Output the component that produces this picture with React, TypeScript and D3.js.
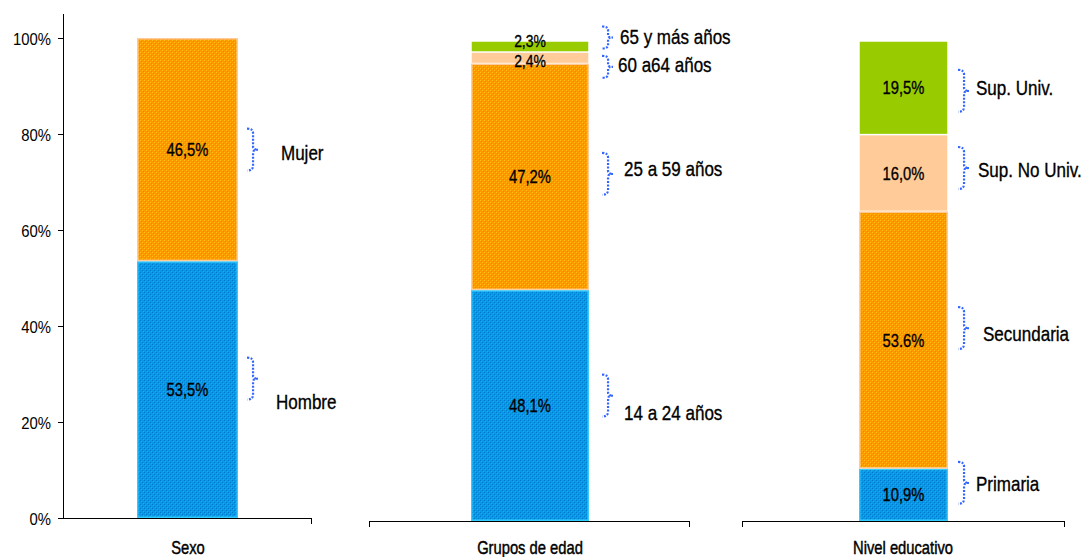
import React from "react";
import * as d3 from "d3";

// ---------- DATA ----------
const groupTitles = ["Sexo", "Grupos de edad", "Nivel educativo"];

const sexoCats = ["Hombre", "Mujer"];
const sexoVals = [53.5, 46.5];
const sexoLabels = ["53,5%", "46,5%"];

const edadCats = ["14 a 24 años", "25 a 59 años", "60 a64 años", "65 y más años"];
const edadVals = [48.1, 47.2, 2.4, 2.3];
const edadLabels = ["48,1%", "47,2%", "2,4%", "2,3%"];

const nivelCats = ["Primaria", "Secundaria", "Sup. No Univ.", "Sup. Univ."];
const nivelVals = [10.9, 53.6, 16.0, 19.5];
const nivelLabels = ["10,9%", "53.6%", "16,0%", "19,5%"];

const yTicks = [0, 20, 40, 60, 80, 100];

// ---------- LAYOUT / STYLE ----------
const W = 1087;
const H = 557;
const NARROW = "'Liberation Sans', Arial, sans-serif";

type Panel = {
  cats: string[];
  vals: number[];
  labels: string[];
  base: number;
  barX: [number, number];
  axisX: [number, number];
  leftTick: boolean;
  titleX: number;
  braceX: number;
  braceDy: number[];
  braceH: number[];
  labelX: number[];
  labelDy: number[];
  valueDy: number[];
  fills: string[];
};

const panels: Panel[] = [
  {
    cats: sexoCats, vals: sexoVals, labels: sexoLabels,
    base: 518, barX: [137, 238], axisX: [63, 312], leftTick: false, titleX: 188,
    braceX: 247, braceDy: [-11, 0], braceH: [42, 42],
    labelX: [276, 281], labelDy: [12, 3], valueDy: [0, 0],
    fills: ["blue", "orange"],
  },
  {
    cats: edadCats, vals: edadVals, labels: edadLabels,
    base: 521, barX: [471, 589], axisX: [369, 690], leftTick: true, titleX: 530,
    braceX: 602, braceDy: [-10, -3, 9, -9], braceH: [42, 42, 22, 22],
    labelX: [624, 624, 618, 620], labelDy: [7, -8, 7, -10], valueDy: [0, 0, 3, -6],
    fills: ["blue", "orange", "peach", "green"],
  },
  {
    cats: nivelCats, vals: nivelVals, labels: nivelLabels,
    base: 521, barX: [859, 948], axisX: [742, 1065], leftTick: true, titleX: 903,
    braceX: 958, braceDy: [-12, -12, -5, 3], braceH: [42, 42, 42, 42],
    labelX: [976, 983, 978, 976], labelDy: [-11, -6, -3, 0], valueDy: [0, 0, 0, 0],
    fills: ["blue", "orange", "peach", "green"],
  },
];

const PX_PER_100 = 480;

function bracePath(x: number, cy: number, h: number, w: number) {
  const t = cy - h / 2;
  const b = cy + h / 2;
  const r = Math.min(5, h / 6);
  const p = d3.path();
  p.moveTo(x, t);
  p.quadraticCurveTo(x + w * 0.55, t, x + w * 0.55, t + r);
  p.lineTo(x + w * 0.55, cy - r * 0.6);
  p.quadraticCurveTo(x + w * 0.55, cy, x + w, cy);
  p.quadraticCurveTo(x + w * 0.55, cy, x + w * 0.55, cy + r * 0.6);
  p.lineTo(x + w * 0.55, b - r);
  p.quadraticCurveTo(x + w * 0.55, b, x, b);
  return p.toString();
}

function NText({ x, y, size, children, anchor = "start", sx = 0.82, thick = 0.35 }: any) {
  return (
    <g transform={`translate(${x},${y}) scale(${sx},1)`}>
      <text
        x={0}
        y={0}
        fontFamily={NARROW}
        fontSize={size}
        textAnchor={anchor}
        dominantBaseline="central"
        fill="#000"
        stroke="#000"
        strokeWidth={thick}
      >
        {children}
      </text>
    </g>
  );
}

export default function App() {
  const yAxis = d3.scaleLinear().domain([0, 100]).range([518, 518 - PX_PER_100]);

  return (
    <svg width={W} height={H} style={{ position: "absolute", left: 0, top: 0, background: "#fff" }}>
      <defs>
        <pattern id="pat-blue" width="4" height="4" patternUnits="userSpaceOnUse">
          <rect width="4" height="4" fill="#0898E6" />
          <rect x="0" y="0" width="1" height="1" fill="#0076CC" />
          <rect x="2" y="2" width="1" height="1" fill="#0076CC" />
          <rect x="1" y="1" width="1" height="1" fill="#1EA8F5" />
          <rect x="3" y="3" width="1" height="1" fill="#1EA8F5" />
        </pattern>
        <pattern id="pat-orange" width="4" height="4" patternUnits="userSpaceOnUse">
          <rect width="4" height="4" fill="#FF9900" />
          <rect x="0" y="0" width="1" height="1" fill="#FFBF10" />
          <rect x="2" y="2" width="1" height="1" fill="#FFBF10" />
          <rect x="1" y="1" width="1" height="1" fill="#EE8800" />
          <rect x="3" y="3" width="1" height="1" fill="#EE8800" />
        </pattern>
      </defs>

      {/* Y axis */}
      <line x1={63.5} x2={63.5} y1={14} y2={518} stroke="#000" strokeWidth={1} />
      {yTicks.map((t) => (
        <g key={t}>
          <line x1={58} x2={63.5} y1={yAxis(t) + 0.5} y2={yAxis(t) + 0.5} stroke="#000" />
          <NText x={51} y={yAxis(t) + 1} size={16} anchor="end" sx={0.93} thick={0}>
            {`${t}%`}
          </NText>
        </g>
      ))}

      {panels.map((pn, pi) => {
        const y = d3.scaleLinear().domain([0, 100]).range([pn.base, pn.base - PX_PER_100]);
        const stacked = pn.vals.map((_, i) => {
          const lo = d3.sum(pn.vals.slice(0, i));
          return [lo, lo + pn.vals[i]];
        });
        const [bx0, bx1] = pn.barX;
        const cx = (bx0 + bx1) / 2;
        return (
          <g key={pi}>
            {stacked.map(([lo, hi], i) => {
              const f = pn.fills[i];
              const fill =
                f === "blue" ? "url(#pat-blue)" : f === "orange" ? "url(#pat-orange)" : f === "peach" ? "#FFCC99" : "#99CC00";
              const stroke = f === "blue" ? "#33CCFF" : f === "orange" ? "#FFCC99" : "none";
              return (
                <rect
                  key={i}
                  x={bx0 + 0.75}
                  y={y(hi) + 0.75}
                  width={bx1 - bx0 - 1.5}
                  height={y(lo) - y(hi) - 1.5}
                  fill={fill}
                  stroke={stroke}
                  strokeWidth={1.5}
                />
              );
            })}
            <line x1={pn.axisX[0]} x2={pn.axisX[1]} y1={pn.base + 0.5} y2={pn.base + 0.5} stroke="#000" />
            {pn.leftTick && (
              <line x1={pn.axisX[0] + 0.5} x2={pn.axisX[0] + 0.5} y1={pn.base} y2={pn.base + 6} stroke="#000" />
            )}
            <line x1={pn.axisX[1] - 0.5} x2={pn.axisX[1] - 0.5} y1={pn.base} y2={pn.base + 6} stroke="#000" />
            <NText x={pn.titleX} y={547} size={18} anchor="middle" thick={0.45}>
              {groupTitles[pi]}
            </NText>
            {stacked.map(([lo, hi], i) => {
              const mid = (y(lo) + y(hi)) / 2;
              return (
                <g key={"l" + i}>
                  <NText x={cx} y={mid + pn.valueDy[i]} size={pn.vals[i] < 5 ? 17 : 18} anchor="middle">
                    {pn.labels[i]}
                  </NText>
                  <path
                    d={bracePath(pn.braceX, mid + pn.braceDy[i], pn.braceH[i], 11)}
                    fill="none"
                    stroke="#3366FF"
                    strokeWidth={2.2}
                    strokeDasharray="2 1.5"
                  />
                  <NText x={pn.labelX[i]} y={mid + pn.labelDy[i]} size={20.5} anchor="start" sx={0.83}>
                    {pn.cats[i]}
                  </NText>
                </g>
              );
            })}
          </g>
        );
      })}
    </svg>
  );
}
